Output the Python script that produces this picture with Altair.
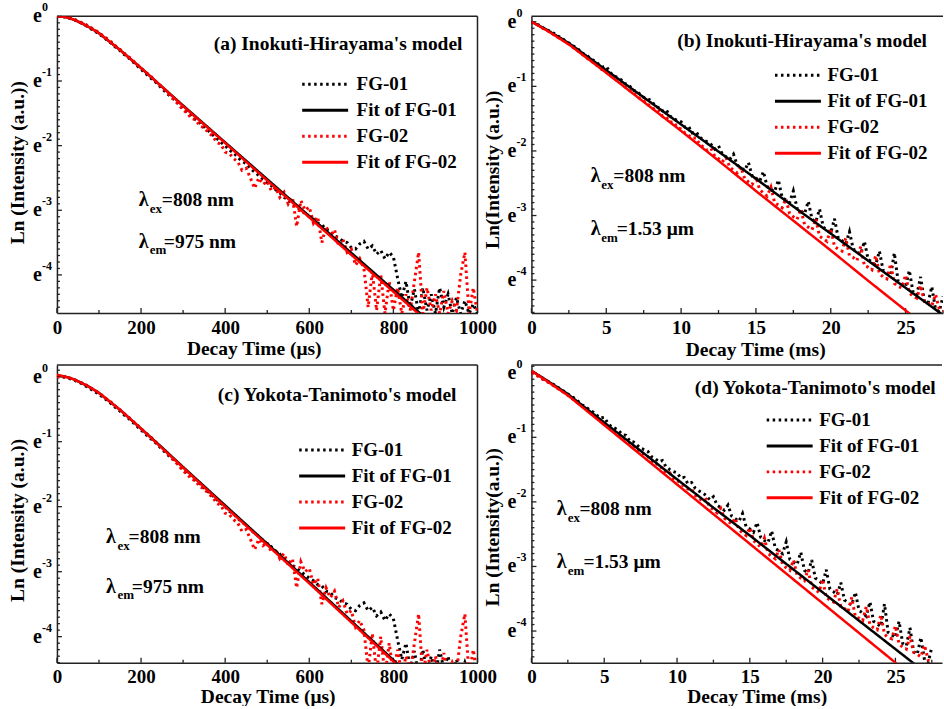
import altair as alt
import pandas as pd

FONT = "Liberation Serif"

SERIES = ["FG-01", "Fit of FG-01", "FG-02", "Fit of FG-02"]
COLORS = ["#000000", "#000000", "#ff0000", "#ff0000"]
DASHES = [[2.5, 3.5], [1, 0], [2.5, 3.5], [1, 0]]

# ---------------- microsecond data (panels a, c) ----------------
t_us = list(range(0, 1001, 10))
fg01_us = [0.0, 0.0, -0.01, -0.03, -0.05, -0.08, -0.11, -0.15, -0.19, -0.23,
           -0.27, -0.32, -0.37, -0.42, -0.48, -0.53, -0.59, -0.64, -0.70, -0.76,
           -0.82, -0.88, -0.94, -0.99, -1.05, -1.12, -1.18, -1.24, -1.29, -1.36,
           -1.42, -1.49, -1.53, -1.60, -1.65, -1.71, -1.77, -1.83, -1.89, -1.95,
           -2.00, -2.07, -2.11, -2.18, -2.24, -2.28, -2.35, -2.41, -2.46, -2.52,
           -2.57, -2.62, -2.68, -2.73, -2.80, -2.84, -2.90, -2.95, -3.00, -3.05,
           -3.10, -3.14, -3.20, -3.22, -3.30, -3.32, -3.40, -3.42, -3.48, -3.50,
           -3.58, -3.60, -3.52, -3.48, -3.60, -3.55, -3.68, -3.62, -3.75, -3.65,
           -3.72, -4.05, -4.35, -4.10, -4.50, -4.22, -4.60, -4.20, -4.55, -4.30,
           -4.60, -4.20, -4.50, -4.30, -4.60, -4.35, -4.60, -4.40, -4.60, -4.45,
           -4.60]
fg02_us = [0.0, 0.0, -0.01, -0.02, -0.04, -0.07, -0.10, -0.13, -0.17, -0.21,
           -0.25, -0.30, -0.35, -0.40, -0.46, -0.51, -0.57, -0.62, -0.68, -0.74,
           -0.80, -0.86, -0.91, -0.97, -1.04, -1.10, -1.16, -1.24, -1.30, -1.37,
           -1.45, -1.50, -1.58, -1.60, -1.70, -1.72, -1.80, -1.85, -1.95, -1.98,
           -2.10, -2.12, -2.20, -2.25, -2.38, -2.35, -2.50, -2.66, -2.50, -2.60,
           -2.55, -2.70, -2.65, -2.80, -2.72, -2.90, -2.80, -3.25, -2.85, -3.00,
           -2.95, -3.20, -3.10, -3.50, -3.25, -3.40, -3.30, -3.55, -3.45, -3.65,
           -3.60, -3.85, -3.75, -3.90, -4.50, -3.95, -4.55, -4.00, -4.60, -4.10,
           -4.55, -4.20, -4.60, -4.30, -4.55, -4.10, -3.65, -4.60, -4.20, -4.55,
           -4.30, -4.60, -4.25, -4.60, -4.40, -4.55, -4.00, -3.65, -4.60, -4.20,
           -4.60]
fit_t_us = [0, 20, 40, 60, 80, 100, 150, 200, 250, 300, 400, 500, 600, 700, 800, 870]
ih_fit01_us = [0.0, -0.01, -0.05, -0.11, -0.18, -0.26, -0.52, -0.80, -1.09, -1.38, -1.95, -2.52, -3.09, -3.66, -4.23, -4.63]
ih_fit02_us = [0.0, -0.01, -0.05, -0.11, -0.18, -0.26, -0.52, -0.80, -1.09, -1.39, -1.96, -2.54, -3.11, -3.69, -4.26, -4.66]
yt_fit01_us = [0.02, 0.0, -0.04, -0.10, -0.17, -0.25, -0.51, -0.80, -1.09, -1.39, -1.98, -2.57, -3.16, -3.76, -4.36, -4.78]
yt_fit02_us = [0.03, 0.0, -0.04, -0.10, -0.17, -0.25, -0.51, -0.80, -1.10, -1.40, -2.00, -2.59, -3.18, -3.78, -4.38, -4.80]

# ---------------- millisecond data (panels b, d) ----------------
t_ms = [k * 0.25 for k in range(111)]
fg01_ms = [0.0, -0.03, -0.05, -0.09, -0.12, -0.15, -0.18, -0.22, -0.25, -0.29,
           -0.33, -0.37, -0.40, -0.45, -0.50, -0.53, -0.58, -0.61, -0.66, -0.70,
           -0.69, -0.78, -0.84, -0.86, -0.90, -0.96, -0.97, -1.06, -1.07, -1.12,
           -1.17, -1.19, -1.22, -1.30, -1.33, -1.38, -1.36, -1.46, -1.50, -1.53,
           -1.55, -1.63, -1.62, -1.72, -1.70, -1.79, -1.83, -1.86,
           -1.90, -1.97, -1.92, -2.05,
           -2.09, -2.13, -2.05, -2.22,
           -2.26, -2.30, -2.18, -2.39,
           -2.42, -2.47, -2.32, -2.55,
           -2.60, -2.63, -2.45, -2.72,
           -2.76, -2.80, -2.62, -2.89,
           -2.93, -2.97, -2.78, -3.06,
           -3.10, -2.90, -3.18, -3.22,
           -3.27, -3.05, -3.35, -3.39,
           -3.44, -3.25, -3.52, -3.56,
           -3.60, -3.40, -3.68, -3.72,
           -3.77, -3.55, -3.85, -3.89,
           -3.93, -3.58, -4.02, -4.06,
           -4.10, -3.85, -4.19, -4.23,
           -3.95, -4.32, -4.36, -4.10,
           -4.45, -4.49, -4.25]
fg02_ms = [0.0, -0.03, -0.06, -0.10, -0.13, -0.16, -0.20, -0.24, -0.27, -0.31,
           -0.35, -0.39, -0.43, -0.48, -0.52, -0.57, -0.60, -0.66, -0.69, -0.75,
           -0.78, -0.83, -0.87, -0.92, -0.95, -1.01, -1.05, -1.10, -1.13, -1.19,
           -1.22, -1.28, -1.30, -1.37, -1.38, -1.46, -1.47, -1.55, -1.55, -1.64,
           -1.66, -1.72, -1.76, -1.80,
           -1.80, -1.90, -1.94, -1.99,
           -1.96, -2.08, -2.12, -2.17,
           -2.10, -2.25, -2.30, -2.34,
           -2.25, -2.43, -2.48, -2.52,
           -2.40, -2.60, -2.65, -2.70,
           -2.56, -2.80, -2.84, -2.88,
           -2.74, -2.97, -3.02, -3.06,
           -2.90, -3.14, -3.18, -3.22,
           -3.05, -3.32, -3.36, -3.40,
           -3.20, -3.48, -3.52, -3.55,
           -3.35, -3.62, -3.65, -3.70,
           -3.48, -3.78, -3.80, -3.84,
           -3.62, -3.90, -3.95, -3.98,
           -3.75, -4.05, -4.10, -4.12,
           -3.92, -4.20, -4.25, -4.28,
           -4.08, -4.33, -4.36, -4.40,
           -4.22, -4.45, -4.48]
fit_t_ms_b = [0, 1, 2.5, 5, 7.5, 10, 12.5, 15, 17.5, 20, 22.5, 25, 27.5]
ih_fit01_ms = [0.0, -0.12, -0.33, -0.75, -1.17, -1.59, -2.01, -2.43, -2.86, -3.28, -3.70, -4.12, -4.54]
ih_fit02_ms = [0.0, -0.13, -0.35, -0.79, -1.24, -1.69, -2.15, -2.62, -3.08, -3.54, -4.01, -4.47, -4.93]
fit_t_ms_d = [0, 1, 2.5, 5, 7.5, 10, 12.5, 15, 17.5, 20, 22.5, 25, 27.5, 28.5]
yt_fit01_ms = [0.03, -0.11, -0.33, -0.77, -1.21, -1.65, -2.09, -2.52, -2.96, -3.40, -3.84, -4.28, -4.72, -4.90]
yt_fit02_ms = [0.03, -0.12, -0.35, -0.81, -1.27, -1.73, -2.19, -2.65, -3.11, -3.57, -4.03, -4.49, -4.95, -5.13]

# ---------------- ticks & texts ----------------
x_major_us = [0, 200, 400, 600, 800, 1000]
x_minor_us = [100, 300, 500, 700, 900]
x_major_ms = [0, 5, 10, 15, 20, 25]
x_minor_ms = [2.5, 7.5, 12.5, 17.5, 22.5, 27.5]
y_major = [0, -1, -2, -3, -4]
y_sup = ["0", "-1", "-2", "-3", "-4"]
y_minor = [round(k / 10, 1) for k in range(-46, 2) if k % 10 != 0]

panel_titles = ["(a) Inokuti-Hirayama's model", "(b) Inokuti-Hirayama's model",
                "(c) Yokota-Tanimoto's model", "(d) Yokota-Tanimoto's model"]
x_titles = ["Decay Time (μs)", "Decay Time (ms)", "Decay Time (μs)", "Decay Time (ms)"]
y_titles = ["Ln (Intensity (a.u.))", "Ln(Intensity (a.u.))", "Ln (Intensity (a.u.))", "Ln (Intensity(a.u.))"]
lam_subs = ["ex", "em"]
lam_vals_us = ["=808 nm", "=975 nm"]
lam_vals_ms = ["=808 nm", "=1.53 μm"]


def long_df(series_map):
    rows = []
    for name, (tt, vals) in series_map.items():
        for ti, v in zip(tt, vals):
            rows.append({"t": ti, "v": v, "series": name})
    return pd.DataFrame(rows)


def txt(s, x, y, size, align="left", baseline="middle"):
    return alt.Chart(alt.Data(values=[{"s": s}])).mark_text(
        align=align, baseline=baseline, font=FONT, fontSize=size,
        fontWeight="bold", color="black"
    ).encode(x=alt.value(x), y=alt.value(y), text="s:N")


def panel(c):
    W, H = c["W"], c["H"]
    xs = alt.Scale(domain=c["xdom"], nice=False, zero=False)
    ys = alt.Scale(domain=c["ydom"], nice=False, zero=False)
    xaxis = alt.Axis(values=c["xmaj"], title=c["xtitle"], grid=False, ticks=False, tickSize=0,
                     format="d", labelFont=FONT, labelFontSize=19, labelFontWeight="bold",
                     labelColor="black", labelPadding=5, labelFlush=False, labelOverlap=False,
                     domainColor="#222222", domainWidth=1.5,
                     titleFont=FONT, titleFontSize=19.5, titleFontWeight="bold", titleColor="black",
                     titleX=c["xtx"], titleY=c["xty"], titleBaseline="middle", titleAlign="center")
    yaxis = alt.Axis(values=y_major, title=c["ytitle"], grid=False, ticks=False, tickSize=0,
                     labels=False, domainColor="#222222", domainWidth=1.5,
                     titleFont=FONT, titleFontSize=19.5, titleFontWeight="bold", titleColor="black",
                     titleX=c["ytx"], titleY=c["yty"], titleAngle=270,
                     titleBaseline="middle", titleAlign="center")
    leg = alt.Legend(orient="none", legendX=c["lx"], legendY=c["ly"], title=None,
                     symbolType="stroke", symbolSize=2116, symbolStrokeWidth=3,
                     labelFont=FONT, labelFontSize=19, labelFontWeight="bold", labelColor="black",
                     labelOffset=c["loff"], clipHeight=25.4, rowPadding=0, padding=0, labelLimit=0)
    cscale = alt.Scale(domain=SERIES, range=COLORS)
    dscale = alt.Scale(domain=SERIES, range=DASHES)

    def X(f):
        return alt.X(f, type="quantitative", scale=xs, axis=xaxis)

    def Y(f):
        return alt.Y(f, type="quantitative", scale=ys, axis=yaxis)

    col = alt.Color("series:N", scale=cscale, legend=leg)
    dash = alt.StrokeDash("series:N", scale=dscale, legend=leg)

    lo, hi = c["ydom"]
    ymaj = pd.DataFrame({"v": y_major, "s": y_sup})
    ymaj = ymaj[(ymaj.v >= lo) & (ymaj.v <= hi)]
    ymin = pd.DataFrame({"v": [v for v in y_minor if lo <= v <= hi]})
    xmaj = pd.DataFrame({"v": c["xmaj"]})
    xmin = pd.DataFrame({"v": c["xmin"]})

    layers = []
    tick_style = dict(color="#222222", strokeWidth=1.3)
    layers.append(alt.Chart(xmaj).mark_rule(**tick_style).encode(x=X("v"), y=alt.value(H), y2=alt.value(H - 5)))
    layers.append(alt.Chart(xmin).mark_rule(**tick_style).encode(x=X("v"), y=alt.value(H), y2=alt.value(H - 3)))
    layers.append(alt.Chart(ymaj).mark_rule(**tick_style).encode(y=Y("v"), x=alt.value(0), x2=alt.value(5)))
    layers.append(alt.Chart(ymin).mark_rule(**tick_style).encode(y=Y("v"), x=alt.value(0), x2=alt.value(3)))
    # frame
    layers.append(alt.Chart(alt.Data(values=[{"a": 1}])).mark_rule(color="#222222", strokeWidth=1.5).encode(
        x=alt.value(0), x2=alt.value(W), y=alt.value(0)))
    if c["right_border"]:
        layers.append(alt.Chart(alt.Data(values=[{"a": 1}])).mark_rule(color="#222222", strokeWidth=1.5).encode(
            x=alt.value(W), y=alt.value(0), y2=alt.value(H)))
    # y tick labels e^n
    layers.append(alt.Chart(ymaj).mark_text(text="e", align="right", baseline="alphabetic", dy=6,
                                            font=FONT, fontSize=20, fontWeight="bold", color="black").encode(
        y=Y("v"), x=alt.value(-15)))
    layers.append(alt.Chart(ymaj).mark_text(align="left", baseline="alphabetic", dy=-5,
                                            font=FONT, fontSize=12, fontWeight="bold", color="black").encode(
        y=Y("v"), x=alt.value(-15), text="s:N"))
    # data and fits
    layers.append(alt.Chart(c["data"]).mark_line(strokeWidth=3, clip=True).encode(
        x=X("t"), y=Y("v"), color=col, strokeDash=dash, detail="series:N"))
    layers.append(alt.Chart(c["fits"]).mark_line(strokeWidth=2.5, clip=True).encode(
        x=X("t"), y=Y("v"), color=col, strokeDash=dash, detail="series:N"))
    # texts
    layers.append(txt(c["title"], c["tx"], c["ty"], 19.5, align="right"))
    for i in range(2):
        ly = c["ay"][i]
        layers.append(txt("λ", c["ax"][0], ly, 20))
        layers.append(txt(lam_subs[i], c["ax"][1], ly + 8.5, 13))
        layers.append(txt(c["avals"][i], c["ax"][2 + i], ly, 19.5))
    return alt.layer(*layers).properties(width=W, height=H)


data_us = long_df({"FG-01": (t_us, fg01_us), "FG-02": (t_us, fg02_us)})
data_ms = long_df({"FG-01": (t_ms, fg01_ms), "FG-02": (t_ms, fg02_ms)})
fits_a = long_df({"Fit of FG-01": (fit_t_us, ih_fit01_us), "Fit of FG-02": (fit_t_us, ih_fit02_us)})
fits_c = long_df({"Fit of FG-01": (fit_t_us, yt_fit01_us), "Fit of FG-02": (fit_t_us, yt_fit02_us)})
fits_b = long_df({"Fit of FG-01": (fit_t_ms_b, ih_fit01_ms), "Fit of FG-02": (fit_t_ms_b, ih_fit02_ms)})
fits_d = long_df({"Fit of FG-01": (fit_t_ms_d, yt_fit01_ms), "Fit of FG-02": (fit_t_ms_d, yt_fit02_ms)})

cfg_a = dict(W=421, H=297, xdom=[0, 1000], ydom=[-4.59, 0.0], xmaj=x_major_us, xmin=x_minor_us,
             xtitle=x_titles[0], xtx=197, xty=36, ytitle=y_titles[0], ytx=-39, yty=146,
             lx=244, ly=55.3, loff=7, data=data_us, fits=fits_a, right_border=True,
             title=panel_titles[0], tx=406, ty=27.7,
             ax=[82, 93, 105, 107], ay=[184, 225.7], avals=lam_vals_us)
cfg_b = dict(W=412, H=297, xdom=[0, 27.5], ydom=[-4.51, 0.084], xmaj=x_major_ms, xmin=x_minor_ms,
             xtitle=x_titles[1], xtx=224, xty=37, ytitle=y_titles[1], ytx=-39, yty=153,
             lx=242.3, ly=46.3, loff=5, data=data_ms, fits=fits_b, right_border=False,
             title=panel_titles[1], tx=396, ty=24.3,
             ax=[59.3, 70, 82, 85.3], ay=[160, 213.3], avals=lam_vals_ms)
cfg_c = dict(W=421, H=298, xdom=[0, 1000], ydom=[-4.4, 0.18], xmaj=x_major_us, xmin=x_minor_us,
             xtitle=x_titles[2], xtx=211, xty=33.5, ytitle=y_titles[2], ytx=-39.7, yty=155,
             lx=241, ly=72.5, loff=5, data=data_us, fits=fits_c, right_border=True,
             title=panel_titles[2], tx=400, ty=30.3,
             ax=[49, 60.7, 71.7, 75], ay=[172.7, 222], avals=lam_vals_us)
cfg_d = dict(W=411, H=298, xdom=[0, 28.2], ydom=[-4.49, 0.12], xmaj=x_major_ms, xmin=x_minor_ms,
             xtitle=x_titles[3], xtx=225.5, xty=33.5, ytitle=y_titles[3], ytx=-39, yty=162,
             lx=234, ly=42.3, loff=5, data=data_ms, fits=fits_d, right_border=False,
             title=panel_titles[3], tx=404.7, ty=22.7,
             ax=[25.3, 36.3, 48, 52], ay=[144.3, 197.7], avals=lam_vals_ms)

res = dict(color="independent", strokeDash="independent", x="independent", y="independent")
chart = alt.concat(panel(cfg_a), panel(cfg_b), panel(cfg_c), panel(cfg_d), columns=2,
                   spacing={"row": 52, "column": 54}, bounds="flush").resolve_scale(**res).configure_view(
    stroke=None).properties(padding={"left": 7, "top": 1, "right": 0, "bottom": 0}, background="white")

chart.save("out.html", embed_options={"renderer": "svg", "actions": False})
